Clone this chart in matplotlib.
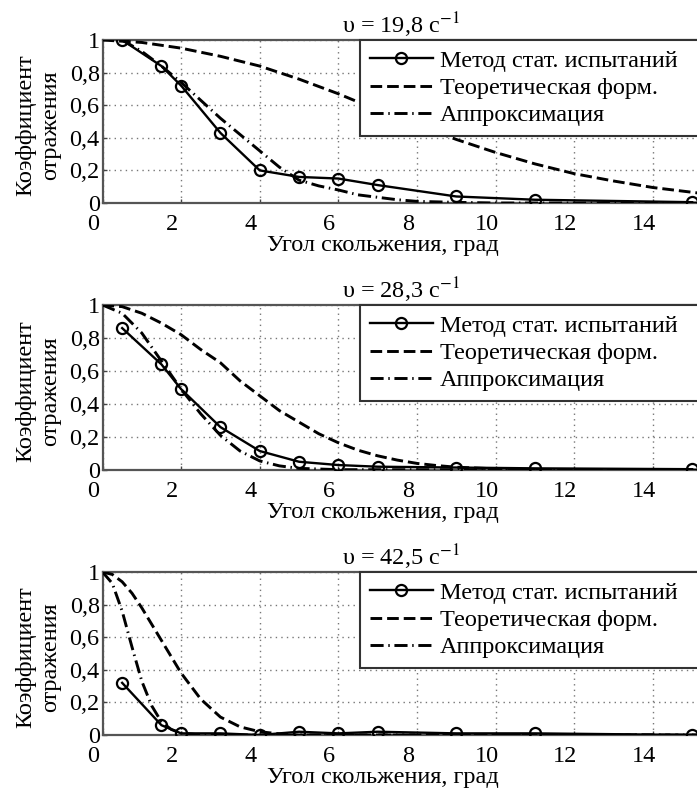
import matplotlib
matplotlib.use("Agg")
import matplotlib.pyplot as plt
import matplotlib.transforms as mtransforms

plt.rcParams['font.family'] = ['Liberation Serif', 'DejaVu Serif']
plt.rcParams['mathtext.fontset'] = 'stix'

# --- данные ---
titles = ["υ = 19,8 с$^{-1}$", "υ = 28,3 с$^{-1}$", "υ = 42,5 с$^{-1}$"]
labels = ["Метод стат. испытаний", "Теоретическая форм.", "Аппроксимация"]
xticks = [0, 2, 4, 6, 8, 10, 12, 14]
yticks = [0, 0.2, 0.4, 0.6, 0.8, 1.0]
ytick_labels = ["0", "0,2", "0,4", "0,6", "0,8", "1"]

# метод статистических испытаний (точки)
stat_x = [0.5, 1.5, 2, 3, 4, 5, 6, 7, 9, 11, 15]
stat1 = [1.0, 0.84, 0.72, 0.43, 0.20, 0.16, 0.15, 0.11, 0.04, 0.02, 0.005]
stat2 = [0.86, 0.64, 0.49, 0.26, 0.115, 0.05, 0.03, 0.02, 0.015, 0.01, 0.005]
stat3 = [0.32, 0.06, 0.01, 0.01, 0.0, 0.02, 0.01, 0.02, 0.01, 0.01, 0.0]

# теоретическая формула
theor1_x = [0, 1, 2, 3, 4, 5, 6, 7, 8, 9, 10, 11, 12, 13, 14, 15.2]
theor1 = [1.0, 0.985, 0.95, 0.90, 0.84, 0.76, 0.67, 0.57, 0.48, 0.39, 0.31,
          0.24, 0.18, 0.135, 0.095, 0.06]
theor2_x = [0, 0.5, 1, 1.5, 2, 2.5, 3, 3.5, 4, 4.5, 5, 5.5, 6, 6.5, 7, 7.5,
            8, 8.5, 9, 10, 11, 12, 15.2]
theor2 = [1.0, 0.99, 0.95, 0.89, 0.82, 0.73, 0.65, 0.54, 0.45, 0.36, 0.29,
          0.22, 0.165, 0.12, 0.086, 0.06, 0.04, 0.027, 0.017, 0.007, 0.003,
          0.0, 0.0]
theor3_x = [0, 0.25, 0.5, 0.75, 1, 1.25, 1.5, 1.75, 2, 2.5, 3, 3.5, 4, 4.5,
            5, 15.2]
theor3 = [1.0, 0.985, 0.94, 0.87, 0.78, 0.68, 0.58, 0.48, 0.38, 0.22, 0.11,
          0.05, 0.02, 0.007, 0.0, 0.0]

# аппроксимация
appr1_x = [0.5, 1, 1.5, 2, 2.5, 3, 3.5, 4, 4.5, 5, 5.5, 6, 6.5, 7, 7.5, 8,
           9, 10, 15.2]
appr1 = [1.0, 0.93, 0.84, 0.74, 0.63, 0.52, 0.42, 0.32, 0.22, 0.14, 0.105,
         0.08, 0.05, 0.035, 0.02, 0.01, 0.004, 0.0, 0.0]
appr2_x = [0, 0.5, 1, 1.5, 2, 2.5, 3, 3.5, 4, 4.5, 5, 6, 15.2]
appr2 = [1.0, 0.95, 0.83, 0.66, 0.49, 0.34, 0.21, 0.115, 0.055, 0.025, 0.01,
         0.002, 0.0]
appr3_x = [0, 0.25, 0.5, 0.75, 1, 1.25, 1.5, 1.75, 2, 2.5, 15.2]
appr3 = [1.0, 0.93, 0.76, 0.54, 0.33, 0.18, 0.08, 0.034, 0.012, 0.0, 0.0]

panels = [
    (stat1, theor1_x, theor1, appr1_x, appr1),
    (stat2, theor2_x, theor2, appr2_x, appr2),
    (stat3, theor3_x, theor3, appr3_x, appr3),
]

W, H = 697, 789
fig = plt.figure(figsize=(W / 100, H / 100), dpi=100)

# верх и низ каждой оси в пикселях
tops = [40, 305, 572]
bottoms = [203, 470, 735]
left_px, right_px = 102.5, 700

fs = 17.5
for i, (stat, tx, ty, ax_x, ay) in enumerate(panels):
    ax = fig.add_axes([left_px / W, 1 - bottoms[i] / H,
                       (right_px - left_px) / W, (bottoms[i] - tops[i]) / H])
    ax.plot(ax_x, ay, color='black', lw=2.1, ls=(0, (4.5, 1.6, 0.5, 1.6)),
            label=labels[2], zorder=3)
    ax.plot(tx, ty, color='black', lw=2.1, ls=(0, (4, 1.7)),
            label=labels[1], zorder=3)
    ax.plot(stat_x, stat, color='black', lw=1.7, marker='o', ms=8,
            mfc='none', mec='black', mew=1.6, label=labels[0], zorder=4)

    ax.set_xlim(0, 15.2)
    ax.set_ylim(0, 1)
    ax.set_xticks(xticks)
    ax.set_xticklabels([str(t) for t in xticks])
    ax.set_yticks(yticks)
    ax.set_yticklabels(ytick_labels)
    ax.tick_params(direction='in', length=3, width=1, labelsize=fs,
                   color='#444444')
    ax.tick_params(axis='x', pad=8)
    ax.tick_params(axis='y', pad=2)
    shift = mtransforms.ScaledTranslation(-9 / 100, 0, fig.dpi_scale_trans)
    for lab in ax.get_xticklabels():
        lab.set_transform(lab.get_transform() + shift)
    ax.grid(True, ls=(0, (1, 3)), color='#777777', lw=1.0)
    for sp in ax.spines.values():
        sp.set_color('#555555')
        sp.set_linewidth(1.6)

    ax.set_title(titles[i], fontsize=fs, pad=5)
    ax.set_xlabel("Угол скольжения, град", fontsize=fs, labelpad=0)
    lshift = mtransforms.ScaledTranslation(-18 / 100, 0, fig.dpi_scale_trans)
    ax.xaxis.label.set_transform(ax.xaxis.label.get_transform() + lshift)
    fig.text(38 / W, 1 - (tops[i] + bottoms[i] + 8) / 2 / H,
             "Коэффициент\nотражения", rotation=90, ha='center',
             va='center', fontsize=fs, linespacing=1.25)

    h, l = ax.get_legend_handles_labels()
    leg = ax.legend(h[::-1], l[::-1], loc='upper left',
                    bbox_to_anchor=(0.431, 0.0, 0.7, 1.0), mode='expand',
                    borderaxespad=0, fontsize=fs, handlelength=2.6,
                    handletextpad=0.3, labelspacing=0.22, borderpad=0.4,
                    fancybox=False, framealpha=1, edgecolor='#333333')
    leg.get_frame().set_linewidth(1.5)

fig.savefig("out.png", dpi=100)
